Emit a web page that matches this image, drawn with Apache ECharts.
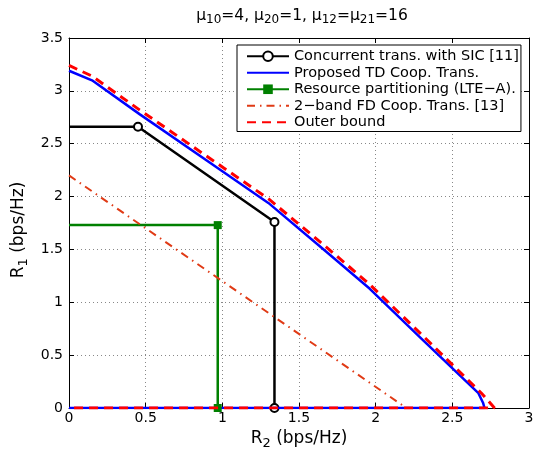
<!DOCTYPE html>
<html>
<head>
<meta charset="utf-8">
<script src="https://cdn.jsdelivr.net/npm/echarts@6/dist/echarts.min.js"></script>
<style>
html,body{margin:0;padding:0;background:#fff;}
#chart{width:535px;height:449px;}
</style>
</head>
<body>
<div id="chart"></div>
<script>
// ---- Data ----
const seriesNames = [
  'Concurrent trans. with SIC [11]',
  'Proposed TD Coop. Trans.',
  'Resource partitioning (LTE\u2212A).',
  '2\u2212band FD Coop. Trans. [13]',
  'Outer bound'
];
const concurrentX = [0, 0.45, 1.34, 1.34];
const concurrentY = [2.66, 2.66, 1.76, 0];
const concurrentMarked = [false, true, true, true];

const proposedX = [0, 0.15, 0.46, 1.0, 1.3, 1.68, 1.96, 2.31, 2.67, 2.70, 2.71, 0];
const proposedY = [3.19, 3.10, 2.78, 2.24, 1.94, 1.475, 1.13, 0.64, 0.14, 0.05, 0, 0];

const partitionX = [0, 0.97, 0.97];
const partitionY = [1.73, 1.73, 0];
const partitionMarked = [false, true, true];

const fdX = [0, 2.2];
const fdY = [2.2, 0];

const outerX = [0, 0.15, 0.46, 1.0, 1.3, 1.68, 1.96, 2.31, 2.69, 2.775, 0];
const outerY = [3.24, 3.14, 2.82, 2.28, 1.98, 1.52, 1.17, 0.68, 0.14, 0, 0];

const xTicks = [0, 0.5, 1, 1.5, 2, 2.5, 3];
const yTicks = [0, 0.5, 1, 1.5, 2, 2.5, 3, 3.5];

function pairs(xs, ys, marked) {
  return xs.map((x, i) => {
    const v = [x, ys[i]];
    if (marked && !marked[i]) return { value: v, symbol: 'none' };
    return { value: v };
  });
}

const FONT = 'DejaVu Sans, sans-serif';
const titleSub = { fontSize: 12, fontFamily: FONT, color: '#000', padding: [8, 0, 0, 0] };
const nameSub = { fontSize: 13, fontFamily: FONT, color: '#000', padding: [9, 0, 0, 0] };

const chart = echarts.init(document.getElementById('chart'), null, { renderer: 'canvas' });

const axisCommonX = {
  type: 'value', min: xTicks[0], max: xTicks[xTicks.length - 1], interval: 0.5
};
const axisCommonY = {
  type: 'value', min: yTicks[0], max: yTicks[yTicks.length - 1], interval: 0.5
};

const noSymbolLegend = { opacity: 0 };

const option = {
  animation: false,
  backgroundColor: '#fff',
  title: {
    text: '\u03bc{sub|10}=4, \u03bc{sub|20}=1, \u03bc{sub|12}=\u03bc{sub|21}=16',
    left: 297, textAlign: 'center', top: 1,
    textStyle: {
      fontSize: 15.5, fontWeight: 'normal', color: '#000', fontFamily: FONT,
      rich: { sub: titleSub }
    }
  },
  grid: { left: 69, right: 6, top: 38, bottom: 41, containLabel: false, outerBoundsMode: 'none' },
  legend: {
    data: [
      { name: seriesNames[0] },
      { name: seriesNames[1], itemStyle: noSymbolLegend },
      { name: seriesNames[2] },
      { name: seriesNames[3], itemStyle: noSymbolLegend },
      { name: seriesNames[4], itemStyle: noSymbolLegend }
    ],
    orient: 'vertical',
    left: 237, top: 45,
    backgroundColor: '#fff',
    borderColor: '#000', borderWidth: 1,
    padding: [3, 2, 1, 9],
    itemWidth: 42, itemHeight: 12, itemGap: 0,
    textStyle: { fontSize: 14.5, lineHeight: 16.5, color: '#000', fontFamily: FONT }
  },
  xAxis: [
    Object.assign({}, axisCommonX, {
      position: 'bottom',
      name: 'R{sub|2} (bps/Hz)', nameLocation: 'middle', nameGap: 20,
      nameTextStyle: { fontSize: 17, color: '#000', fontFamily: FONT, rich: { sub: nameSub } },
      axisLine: { onZero: false, lineStyle: { color: '#000', width: 1 } },
      axisTick: { inside: true, length: 5, lineStyle: { color: '#000' } },
      axisLabel: { fontSize: 14, color: '#000', fontFamily: FONT, margin: 3,
        formatter: v => String(v) },
      splitLine: { show: true, lineStyle: { color: '#888', type: [1, 3], width: 1 } }
    }),
    Object.assign({}, axisCommonX, {
      position: 'top',
      axisLine: { onZero: false, lineStyle: { color: '#000', width: 1 } },
      axisTick: { inside: true, length: 5, lineStyle: { color: '#000' } },
      axisLabel: { show: false },
      splitLine: { show: false }
    })
  ],
  yAxis: [
    Object.assign({}, axisCommonY, {
      position: 'left',
      name: 'R{sub|1} (bps/Hz)', nameLocation: 'middle', nameGap: 26, nameRotate: 90,
      nameTextStyle: { fontSize: 17, color: '#000', fontFamily: FONT, rich: { sub: nameSub },
        padding: [0, 14, 0, 0] },
      axisLine: { onZero: false, lineStyle: { color: '#000', width: 1 } },
      axisTick: { inside: true, length: 5, lineStyle: { color: '#000' } },
      axisLabel: { fontSize: 14, color: '#000', fontFamily: FONT, margin: 6,
        formatter: v => String(v) },
      splitLine: { show: true, lineStyle: { color: '#888', type: [1, 3], width: 1 } }
    }),
    Object.assign({}, axisCommonY, {
      position: 'right',
      axisLine: { onZero: false, lineStyle: { color: '#000', width: 1 } },
      axisTick: { inside: true, length: 5, lineStyle: { color: '#000' } },
      axisLabel: { show: false },
      splitLine: { show: false }
    })
  ],
  series: [
    {
      name: seriesNames[0], type: 'line', data: pairs(concurrentX, concurrentY, concurrentMarked),
      symbol: 'emptyCircle', symbolSize: 8, showAllSymbol: true,
      lineStyle: { color: '#000', width: 2.5 },
      itemStyle: { color: '#000', borderColor: '#000', borderWidth: 3 },
      z: 3
    },
    {
      name: seriesNames[1], type: 'line', data: pairs(proposedX, proposedY),
      symbol: 'none', lineStyle: { color: '#0000ff', width: 2.5 },
      itemStyle: { color: '#0000ff' }, z: 4
    },
    {
      name: seriesNames[2], type: 'line', data: pairs(partitionX, partitionY, partitionMarked),
      symbol: 'rect', symbolSize: 8, showAllSymbol: true,
      lineStyle: { color: '#008000', width: 2.5 },
      itemStyle: { color: '#008000' }, z: 5
    },
    {
      name: seriesNames[3], type: 'line', data: pairs(fdX, fdY),
      symbol: 'none', lineStyle: { color: '#e03a15', width: 2, type: [8, 5, 1.5, 5] },
      itemStyle: { color: '#e03a15' }, z: 6
    },
    {
      name: seriesNames[4], type: 'line', data: pairs(outerX, outerY),
      symbol: 'none', lineStyle: { color: '#ff0000', width: 3, type: [9, 6] },
      itemStyle: { color: '#ff0000' }, z: 7
    }
  ]
};
chart.setOption(option);
</script>
</body>
</html>
